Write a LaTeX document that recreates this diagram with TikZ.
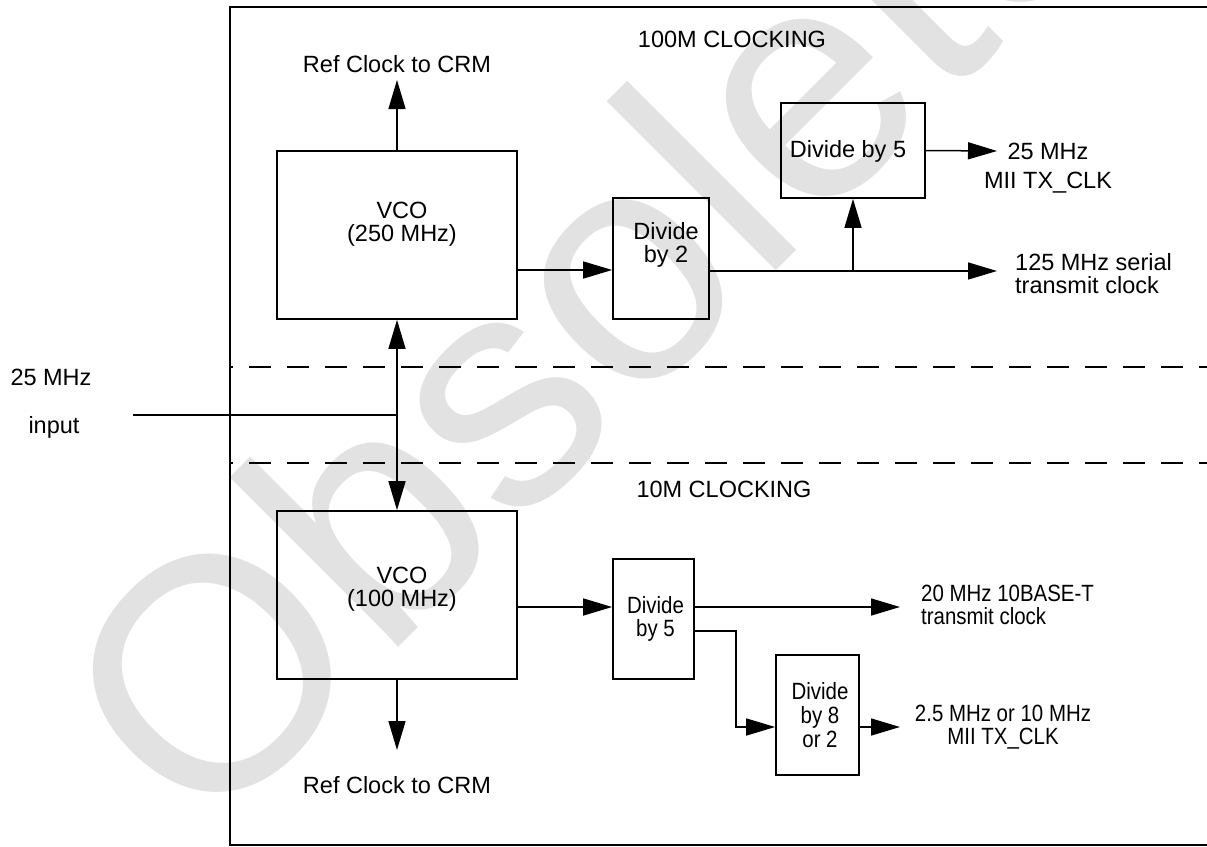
\documentclass[tikz,border=0pt]{standalone}
\usepackage{fontspec}
\setmainfont{Liberation Sans}
\newfontfamily\narrowsans[FakeStretch=0.87]{Liberation Sans}
\usetikzlibrary{arrows.meta}
\definecolor{watermarkgray}{HTML}{E2E2E2}

\begin{document}
\begin{tikzpicture}[
  x=1pt,
  y=-1pt,
  frame/.style={draw=black,line width=2.4pt},
  block/.style={draw=black,line width=1.7pt,rectangle,inner sep=0pt},
  wire/.style={draw=black,line width=1.5pt},
  signal/.style={wire,-{Triangle[length=29pt,width=17pt]}},
  bothways/.style={wire,{Triangle[length=29pt,width=17pt]}-{Triangle[length=29pt,width=17pt]}},
  divider/.style={draw=black,line width=1.5pt,dash pattern=on 21.7pt off 16.3pt,dash phase=18.7pt},
  txt/.style={inner sep=0pt,font=\fontsize{23.5}{23}\selectfont},
  narrowtxt/.style={inner sep=0pt,font=\narrowsans\fontsize{23.5}{23}\selectfont},
  watermark/.style={text=watermarkgray,rotate=45,inner sep=0pt,font=\fontsize{330}{330}\selectfont}
]
  \useasboundingbox (0,0) rectangle (1207,846);

  % Watermark sits behind the whole diagram.
  \node[watermark] (wmark) at (586,294) {Obsolete};

  % Chip outline, open to the right.
  \draw[frame] (1212,7) -- (230,7) -- (230,845) -- (1212,845);

  % Borders between the 100M and 10M sections.
  \draw[divider] (230,367) -- (1207,367);
  \draw[divider] (230,463) -- (1207,463);

  \node[txt,anchor=base] (hdrA) at (732,47) {100M CLOCKING};
  \node[txt,anchor=base] (hdrB) at (724,497) {10M CLOCKING};

  % Blocks.
  \node[block,minimum width=240pt,minimum height=168pt] (vcoA) at (397,235) {};
  \node[block,minimum width=96pt,minimum height=121pt] (divA) at (661,258.5) {};
  \node[block,minimum width=144pt,minimum height=95pt] (divB) at (853,150.5) {};
  \node[block,minimum width=240pt,minimum height=168pt] (vcoB) at (397,595) {};
  \node[block,minimum width=81pt,minimum height=120pt] (divC) at (653.5,619) {};
  \node[block,minimum width=83pt,minimum height=120pt] (divD) at (817.5,715) {};

  % Block texts sit a little above the block centres.
  \node[txt,align=center,anchor=north] (vcoAtext) at (402,202) {VCO\\(250 MHz)};
  \node[txt,align=center,anchor=north] (divAtext) at (666,222.5) {Divide\\by 2};
  \node[txt,anchor=north] (divBtext) at (848,140) {Divide by 5};
  \node[txt,align=center,anchor=north] (vcoBtext) at (402,567) {VCO\\(100 MHz)};
  \node[narrowtxt,align=center,anchor=north] (divCtext) at (655.5,596) {Divide\\by 5};
  \node[narrowtxt,align=center,anchor=north,font=\narrowsans\fontsize{23.5}{24}\selectfont] (divDtext) at (820,682) {Divide\\by 8\\or 2};

  % Free ends of the clock outputs.
  \coordinate (refA) at (397,80);
  \coordinate (refB) at (397,750);
  \coordinate (out25) at (997,151);
  \coordinate (out125) at (997,271);
  \coordinate (out20) at (900,607);
  \coordinate (out2) at (900,727);
  \coordinate (inp) at (133,415);

  % 100M path.
  \draw[signal] (vcoA.north) -- (refA);
  \draw[signal] ([yshift=-35pt]vcoA.east) -- ([yshift=-35pt]vcoA.east -| divA.west);
  \draw[signal] ([yshift=-12.5pt]divA.east) -- (out125);
  \draw[signal] (divB.south |- out125) -- (divB.south);
  \draw[signal] (divB.east) -- (out25);

  % Reference input feeds both VCOs.
  \draw[bothways] (vcoA.south) -- (vcoB.north);
  \draw[wire] (inp) -- (inp -| vcoA.south);

  % 10M path.
  \draw[signal] (vcoB.south) -- (refB);
  \draw[signal] ([yshift=-12pt]vcoB.east) -- ([yshift=-12pt]vcoB.east -| divC.west);
  \draw[signal] ([yshift=12pt]divC.east) -- (out20);
  \draw[signal] ([yshift=-12pt]divC.east) -- ++(41,0) |- ([yshift=-12pt]divD.west);
  \draw[signal] ([yshift=-12pt]divD.east) -- (out2);

  % Output and input labels.
  \node[txt,anchor=base] (refAtext) at (397,72) {Ref Clock to CRM};
  \node[txt,anchor=base] (refBtext) at (397,793) {Ref Clock to CRM};
  \node[txt,anchor=base] (inAtext) at (51,385) {25 MHz};
  \node[txt,anchor=base] (inBtext) at (54,433) {input};
  \node[txt,align=center,anchor=north,font=\fontsize{23.5}{29}\selectfont] (out25text) at (1048,143) {25 MHz\\MII TX\_CLK};
  \node[txt,align=left,anchor=north west] (out125text) at (1015,253) {125 MHz serial\\transmit clock};
  \node[narrowtxt,align=left,anchor=north west] (out20text) at (921,585) {20 MHz 10BASE-T\\transmit clock};
  \node[narrowtxt,align=center,anchor=north] (out2text) at (1003,705) {2.5 MHz or 10 MHz\\MII TX\_CLK};
\end{tikzpicture}
\end{document}
